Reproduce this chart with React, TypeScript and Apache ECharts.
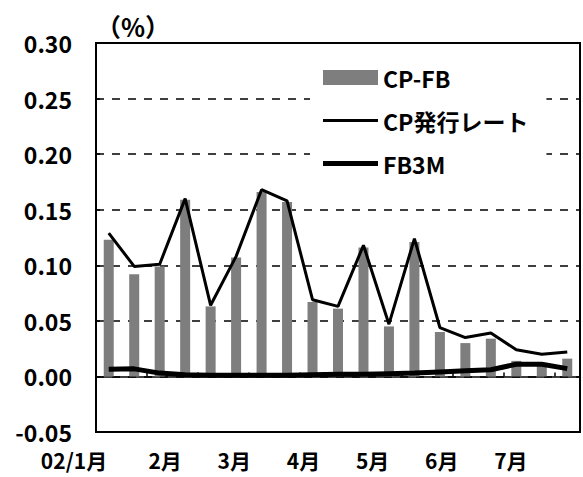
import React, { useEffect, useRef } from "react";
import * as echarts from "echarts";

// Observation points (roughly every 11 days, Jan–Jul 2002)
const periods = [
  "01/07", "01/18", "01/29", "02/09", "02/20", "03/04", "03/15", "03/26", "04/06", "04/17",
  "04/28", "05/09", "05/20", "05/31", "06/11", "06/22", "07/03", "07/14", "07/25",
];

// Spread CP - FB (%)
const cpFbSpread = [
  0.123, 0.092, 0.099, 0.159, 0.063, 0.107, 0.166, 0.157, 0.067, 0.061,
  0.116, 0.045, 0.121, 0.040, 0.030, 0.034, 0.014, 0.011, 0.016,
];

// CP issue rate (%)
const cpIssueRate = [
  0.129, 0.099, 0.101, 0.160, 0.064, 0.108, 0.168, 0.158, 0.069, 0.063,
  0.118, 0.047, 0.124, 0.044, 0.035, 0.039, 0.024, 0.020, 0.022,
];

// FB 3-month yield (%)
const fb3m = [
  0.0065, 0.0068, 0.003, 0.0015, 0.001, 0.001, 0.001, 0.001, 0.0015, 0.002,
  0.002, 0.0025, 0.003, 0.004, 0.005, 0.006, 0.011, 0.011, 0.007,
];

// Month tick labels along the bottom
const monthLabels = ["02/1月", "2月", "3月", "4月", "5月", "6月", "7月"];

const FONT = "'Noto Sans CJK JP', 'Noto Sans', sans-serif";

export default function App() {
  const ref = useRef<HTMLDivElement>(null);

  useEffect(() => {
    if (!ref.current) return;
    const chart = echarts.init(ref.current, undefined, { renderer: "svg" });

    const option: echarts.EChartsOption = {
      animation: false,
      backgroundColor: "#ffffff",
      textStyle: { fontFamily: FONT },
      grid: {
        left: 96,
        right: 3,
        top: 43,
        bottom: 45,
        show: true,
        borderColor: "#000",
        borderWidth: 2,
        backgroundColor: "transparent",
      },
      legend: {
        orient: "vertical",
        left: 310,
        top: 54,
        backgroundColor: "#ffffff",
        padding: [12, 18, 14, 13],
        itemWidth: 55,
        itemHeight: 15,
        itemGap: 20,
        symbolKeepAspect: true,
        textStyle: {
          fontFamily: FONT,
          fontWeight: "bold",
          fontSize: 23,
          color: "#000",
        },
        data: [
          { name: "CP-FB", icon: "rect" },
          { name: "CP発行レート", icon: "path://M0,0H55V3H0Z" },
          { name: "FB3M", icon: "path://M0,0H55V5H0Z" },
        ],
      },
      xAxis: [
        {
          type: "category",
          data: periods,
          position: "bottom",
          boundaryGap: true,
          axisLine: { onZero: true, lineStyle: { color: "#000", width: 1.5 } },
          axisTick: { show: true, inside: true, length: 4, lineStyle: { color: "#000", width: 1.5 } },
          axisLabel: { show: false },
          splitLine: { show: false },
        },
        {
          type: "value",
          position: "bottom",
          min: 0,
          max: 7,
          interval: 1,
          axisLine: { show: false, onZero: false },
          axisTick: { show: false },
          splitLine: { show: false },
          axisLabel: {
            margin: 17,
            fontFamily: FONT,
            fontWeight: "bold",
            fontSize: 21,
            color: "#000",
            showMaxLabel: true,
            formatter: (v: number) => {
              const i = Math.round(v);
              if (i === 0) return `{first|${monthLabels[0]}}`;
              return i < monthLabels.length ? monthLabels[i] : "";
            },
            rich: {
              first: {
                fontFamily: FONT,
                fontWeight: "bold",
                fontSize: 21,
                color: "#000",
                padding: [0, 44, 0, 0],
              },
            },
          },
        },
      ],
      yAxis: {
        type: "value",
        min: -0.05,
        max: 0.3,
        interval: 0.05,
        name: "（%）",
        nameLocation: "end",
        nameGap: 5,
        nameTextStyle: {
          fontFamily: FONT,
          fontWeight: "bold",
          fontSize: 25,
          color: "#000",
          align: "left",
          padding: [0, 0, 0, 0],
        },
        axisLine: { show: true, lineStyle: { color: "#000", width: 2 } },
        axisTick: { show: true, inside: true, length: 4, lineStyle: { color: "#000", width: 1.5 } },
        axisLabel: {
          margin: 24,
          fontFamily: FONT,
          fontWeight: "bold",
          fontSize: 23,
          color: "#000",
          formatter: (v: number) => v.toFixed(2),
        },
        splitLine: {
          show: true,
          lineStyle: { color: "#000", width: 1.5, type: [8, 8] },
        },
      },
      series: [
        {
          name: "CP-FB",
          type: "bar",
          xAxisIndex: 0,
          data: cpFbSpread,
          barWidth: 10,
          itemStyle: { color: "#7e7e7e" },
        },
        {
          name: "CP発行レート",
          type: "line",
          xAxisIndex: 0,
          data: cpIssueRate,
          symbol: "none",
          lineStyle: { color: "#000", width: 3 },
          itemStyle: { color: "#000" },
        },
        {
          name: "FB3M",
          type: "line",
          xAxisIndex: 0,
          data: fb3m,
          symbol: "none",
          lineStyle: { color: "#000", width: 5 },
          itemStyle: { color: "#000" },
        },
      ],
    };

    chart.setOption(option);
    return () => chart.dispose();
  }, []);

  return (
    <div
      ref={ref}
      style={{ position: "fixed", left: 0, top: 0, width: 583, height: 477 }}
    />
  );
}
